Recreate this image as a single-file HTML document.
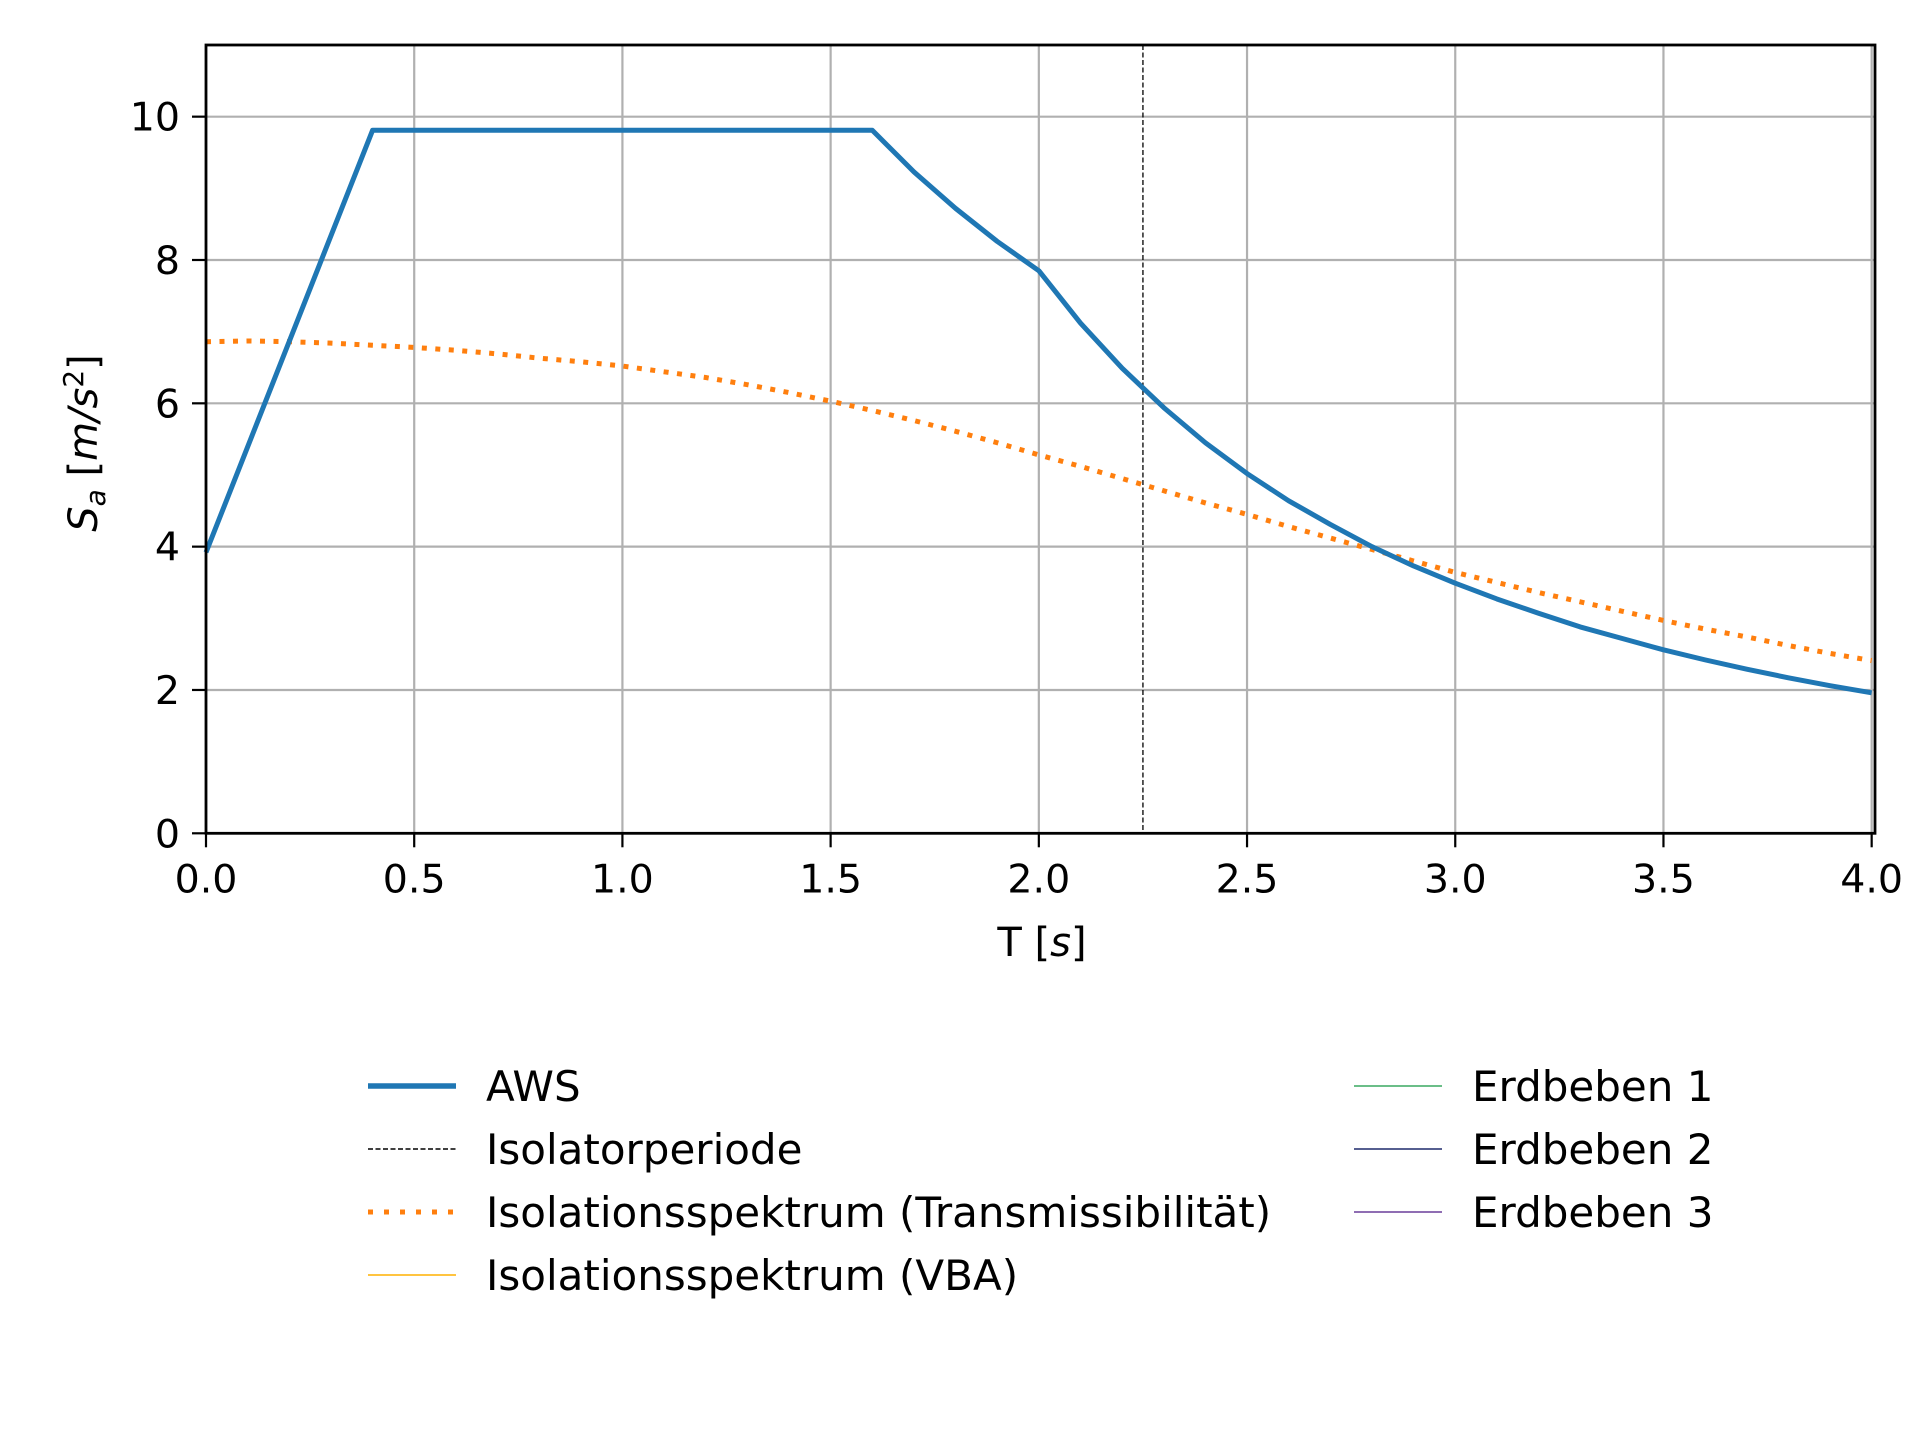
<!DOCTYPE html>
<html><head><meta charset="utf-8"><style>
html,body{margin:0;padding:0;background:#fff;width:1920px;height:1440px;overflow:hidden}
svg{display:block;font-family:"DejaVu Sans","Liberation Sans",sans-serif}
</style></head><body>
<svg id="chart" width="1920" height="1440" viewBox="0 0 1920 1440">
<g id="grid"></g>
<g id="series"></g>
<g id="axes"></g>
<text x="1042" y="956" font-size="40" text-anchor="middle">T [<tspan font-style="italic">s</tspan>]</text>
<text transform="translate(97,443) rotate(-90)" font-size="40" text-anchor="middle"><tspan font-style="italic">S</tspan><tspan font-style="italic" font-size="28" dy="8">a</tspan><tspan dy="-8"> [</tspan><tspan font-style="italic">m/s</tspan><tspan font-size="28" dy="-14">2</tspan><tspan dy="14">]</tspan></text>
<g id="legend" font-size="42"></g>
</svg>
<script>
const awsT=[0,0.4,0.5,1.0,1.5,1.6,1.7,1.8,1.9,2.0,2.1,2.2,2.3,2.4,2.5,2.6,2.7,2.8,2.9,3.0,3.1,3.2,3.3,3.4,3.5,3.6,3.7,3.8,3.9,4.0];
const awsSa=[3.92,9.81,9.81,9.81,9.81,9.81,9.23,8.72,8.26,7.85,7.12,6.49,5.94,5.45,5.02,4.64,4.31,4.00,3.73,3.49,3.27,3.07,2.88,2.72,2.56,2.42,2.29,2.17,2.06,1.96];
const isoT=[0,0.1,0.2,0.3,0.4,0.5,0.6,0.7,0.8,0.9,1.0,1.1,1.2,1.3,1.4,1.5,1.6,1.7,1.8,1.9,2.0,2.1,2.2,2.3,2.4,2.5,2.6,2.7,2.8,2.9,3.0,3.1,3.2,3.3,3.4,3.5,3.6,3.7,3.8,3.9,4.0];
const isoSa=[6.86,6.87,6.86,6.84,6.81,6.78,6.74,6.69,6.63,6.58,6.52,6.44,6.36,6.26,6.15,6.03,5.90,5.76,5.61,5.45,5.28,5.12,4.95,4.78,4.61,4.45,4.28,4.12,3.96,3.80,3.64,3.50,3.36,3.23,3.10,2.97,2.85,2.74,2.62,2.51,2.41];
const isolatorPeriod=[2.25];
const xTicks=[0,0.5,1.0,1.5,2.0,2.5,3.0,3.5,4.0];
const xTickLabels=["0.0","0.5","1.0","1.5","2.0","2.5","3.0","3.5","4.0"];
const yTicks=[0,2,4,6,8,10];
const yTickLabels=["0","2","4","6","8","10"];
const legendLabels=["AWS","Isolatorperiode","Isolationsspektrum (Transmissibilität)","Isolationsspektrum (VBA)","Erdbeben 1","Erdbeben 2","Erdbeben 3"];

const L=206,R=1875,T=45,B=833.3,XMAX=4.008,YMAX=11.0;
const sx=v=>L+(v/XMAX)*(R-L);
const sy=v=>B-(v/YMAX)*(B-T);
const NS="http://www.w3.org/2000/svg";
function mk(tag,attrs,parent){const e=document.createElementNS(NS,tag);for(const k in attrs)e.setAttribute(k,attrs[k]);parent.appendChild(e);return e;}
const grid=document.getElementById('grid'),series=document.getElementById('series'),axes=document.getElementById('axes'),legend=document.getElementById('legend');

xTicks.forEach((v,i)=>{
  const g=mk('line',{x1:sx(v),x2:sx(v),y1:T,y2:B,stroke:'#b0b0b0','stroke-width':2.2},grid);
  
  
  const t=mk('line',{x1:sx(v),x2:sx(v),y1:B,y2:B+14,stroke:'#000','stroke-width':2.2},axes);
  
  
  const lb=mk('text',{x:sx(v),y:B+59,'font-size':39.5,'text-anchor':'middle'},axes);
  lb.textContent=xTickLabels[i];
  
  
});
yTicks.forEach((v,i)=>{
  const g=mk('line',{x1:L,x2:R,y1:sy(v),y2:sy(v),stroke:'#b0b0b0','stroke-width':2.2},grid);
  
  
  const t=mk('line',{x1:L-14,x2:L,y1:sy(v),y2:sy(v),stroke:'#000','stroke-width':2.2},axes);
  
  
  const lb=mk('text',{x:L-26,y:sy(v)+14,'font-size':39.5,'text-anchor':'end'},axes);
  lb.textContent=yTickLabels[i];
  
  
});
const frame=mk('rect',{x:L,y:T,width:R-L,height:B-T,fill:'none',stroke:'#000','stroke-width':2.8},axes);



function pathOf(xs,ys){return xs.map((x,i)=>(i?'L':'M')+sx(x).toFixed(2)+','+sy(ys[i]).toFixed(2)).join(' ');}
const vl=mk('line',{x1:sx(isolatorPeriod[0]),x2:sx(isolatorPeriod[0]),y1:T,y2:B,stroke:'#000','stroke-width':1.3,'stroke-dasharray':'5,2.5'},series);


const iso=mk('path',{d:pathOf(isoT,isoSa),fill:'none',stroke:'#ff7f0e','stroke-width':5,'stroke-dasharray':'5,8.5'},series);


const aws=mk('path',{d:pathOf(awsT,awsSa),fill:'none',stroke:'#1f77b4','stroke-width':5,'stroke-linejoin':'round'},series);



const styles=[
 {c:'#1f77b4',w:5.5,d:''},{c:'#000',w:1.5,d:'5,2.5'},{c:'#ff7f0e',w:5,d:'5,11'},{c:'#ffb000',w:1.5,d:''},
 {c:'#3aa860',w:1.5,d:''},{c:'#1f2a6b',w:1.5,d:''},{c:'#6a3d9a',w:1.5,d:''}];
const names=['legend-aws','legend-isolatorperiode','legend-transmissibility','legend-vba','legend-erdbeben-1','legend-erdbeben-2','legend-erdbeben-3'];
legendLabels.forEach((lab,i)=>{
  const col=i<4?0:1,row=i<4?i:i-4;
  const x0=col?1354:368,y0=1086+row*63;
  const g=mk('g',{},legend);
  
  
  const ln=mk('line',{x1:x0,x2:x0+88,y1:y0,y2:y0,stroke:styles[i].c,'stroke-width':styles[i].w},g);
  if(styles[i].d)ln.setAttribute('stroke-dasharray',styles[i].d);
  const t=mk('text',{x:x0+118,y:y0+15},g);
  t.textContent=lab;
});
</script>
</body></html>
